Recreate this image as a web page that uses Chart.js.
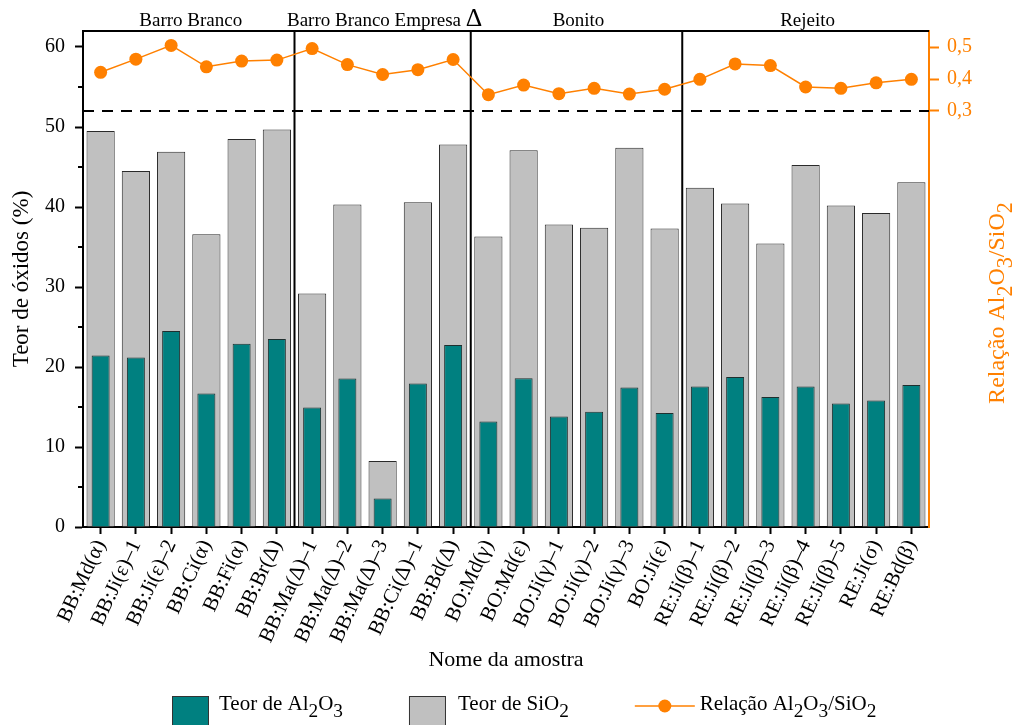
<!DOCTYPE html>
<html>
<head>
<meta charset="utf-8">
<script src="https://cdn.jsdelivr.net/npm/chart.js@4.4.0/dist/chart.umd.min.js"></script>
<style>
  html, body { margin: 0; padding: 0; background: #fff; }
  #wrap { width: 1016px; height: 725px; }
</style>
</head>
<body>
<div id="wrap"><canvas id="oxideChart"></canvas></div>
<script>
'use strict';

// ***** DATA *****
const sampleNames = ['BB:Md(α)', 'BB:Ji(ε)–1', 'BB:Ji(ε)–2', 'BB:Ci(α)', 'BB:Fi(α)', 'BB:Br(Δ)',
  'BB:Ma(Δ)–1', 'BB:Ma(Δ)–2', 'BB:Ma(Δ)–3', 'BB:Ci(Δ)–1', 'BB:Bd(Δ)',
  'BO:Md(γ)', 'BO:Md(ε)', 'BO:Ji(γ)–1', 'BO:Ji(γ)–2', 'BO:Ji(γ)–3', 'BO:Ji(ε)',
  'RE:Ji(β)–1', 'RE:Ji(β)–2', 'RE:Ji(β)–3', 'RE:Ji(β)–4', 'RE:Ji(β)–5', 'RE:Ji(σ)', 'RE:Bd(β)'];
const al2o3Values = [21.45, 21.2, 24.5, 16.7, 22.9, 23.5, 14.95, 18.55, 3.55, 17.95, 22.75,
  13.2, 18.6, 13.8, 14.4, 17.45, 14.25, 17.55, 18.75, 16.25, 17.55, 15.45, 15.8, 17.75];
const sio2Values = [49.5, 44.5, 46.9, 36.6, 48.5, 49.7, 29.2, 40.3, 8.25, 40.6, 47.8,
  36.3, 47.1, 37.8, 37.4, 47.4, 37.3, 42.4, 40.45, 35.45, 45.25, 40.2, 39.25, 43.1];
const ratioValues = [0.421, 0.462, 0.505, 0.438, 0.456, 0.459, 0.495, 0.445, 0.414, 0.429, 0.461,
  0.351, 0.381, 0.354, 0.371, 0.353, 0.368, 0.399, 0.447, 0.442, 0.375, 0.371, 0.388, 0.399];
const groupNames = ['Barro Branco', 'Barro Branco Empresa Δ', 'Bonito', 'Rejeito'];
const groupStarts = [0, 6, 11, 17]; // first sample index of each group
const rightTicks = [0.3, 0.4, 0.5];
const ratioLimit = 0.3;

// ***** STYLE *****
const SERIF = '"Liberation Serif", "Times New Roman", serif';
const ORANGE = '#FF8000';
const TEAL = '#008080';
const GREY = '#C0C0C0';

// ***** HELPERS *****
// "_2" marks a subscript digit, "Δ" is drawn a bit larger
function splitRich(text){
  return text.split(/(_\d|Δ)/).filter(s => s).map(s => {
    if(s[0] === '_') return {t: s.slice(1), scale: 0.92, shift: 0.32};
    if(s === 'Δ') return {t: s, scale: 1.35, shift: 0};
    return {t: s, scale: 1, shift: 0};
  });
}

function richWidth(ctx, text, size){
  let w = 0;
  splitRich(text).forEach(seg => {
    ctx.font = `${size * seg.scale}px ${SERIF}`;
    w += ctx.measureText(seg.t).width;
  });
  return w;
}

function drawRich(ctx, text, x, y, size){
  let cx = x;
  ctx.textAlign = 'left';
  ctx.textBaseline = 'alphabetic';
  splitRich(text).forEach(seg => {
    ctx.font = `${size * seg.scale}px ${SERIF}`;
    ctx.fillText(seg.t, cx, y + size * seg.shift);
    cx += ctx.measureText(seg.t).width;
  });
  return cx;
}

// ***** PLUGIN: frame, separators, limit line, labels, legend *****
const decorPlugin = {
  id: 'decor',
  beforeDatasetsDraw(chart){
    const {ctx, chartArea: area, scales} = chart;
    ctx.save();
    ctx.strokeStyle = '#000';
    ctx.lineWidth = 2;

    // top frame
    ctx.beginPath();
    ctx.moveTo(area.left, area.top);
    ctx.lineTo(area.right, area.top);
    ctx.stroke();

    // group separators
    for(let g = 1; g < groupStarts.length; g++){
      const i = groupStarts[g];
      const x = (scales.x.getPixelForValue(i - 1) + scales.x.getPixelForValue(i)) / 2;
      ctx.beginPath();
      ctx.moveTo(x, area.top);
      ctx.lineTo(x, area.bottom);
      ctx.stroke();
    }

    // dashed limit on ratio axis
    const yLim = scales.y2.getPixelForValue(ratioLimit);
    ctx.setLineDash([11, 8]);
    ctx.beginPath();
    ctx.moveTo(area.left, yLim);
    ctx.lineTo(area.right, yLim);
    ctx.stroke();
    ctx.setLineDash([]);

    // minor ticks on left axis
    for(let v = 5; v < 62; v += 10){
      const y = scales.y.getPixelForValue(v);
      ctx.beginPath();
      ctx.moveTo(area.left - 5, y);
      ctx.lineTo(area.left, y);
      ctx.stroke();
    }
    ctx.restore();
  },
  afterDraw(chart){
    const {ctx, chartArea: area, scales} = chart;
    ctx.save();
    ctx.fillStyle = '#000';

    // group names above plot
    groupNames.forEach((name, g) => {
      const first = groupStarts[g];
      const last = g + 1 < groupStarts.length ? groupStarts[g + 1] - 1 : sampleNames.length - 1;
      const cx = (scales.x.getPixelForValue(first) + scales.x.getPixelForValue(last)) / 2;
      const w = richWidth(ctx, name, 19);
      drawRich(ctx, name, cx - w / 2 + 2, area.top - 5, 19);
    });

    // right axis title, reading upwards
    const rTitle = 'Relação Al_2O_3/SiO_2';
    ctx.fillStyle = ORANGE;
    ctx.save();
    ctx.translate(chart.width - 12, (area.top + area.bottom) / 2 + 24);
    ctx.rotate(-Math.PI / 2);
    const rw = richWidth(ctx, rTitle, 24);
    drawRich(ctx, rTitle, -rw / 2, 0, 24);
    ctx.restore();

    // legend
    const ds = chart.data.datasets;
    const base = 710;
    let x = 172;
    [ds[0], ds[1]].forEach((d, k) => {
      ctx.fillStyle = d.backgroundColor;
      ctx.fillRect(x, 696, 37, 34);
      ctx.strokeStyle = '#333';
      ctx.lineWidth = 1;
      ctx.strokeRect(x + 0.5, 696.5, 36, 34);
      ctx.fillStyle = '#000';
      x = drawRich(ctx, d.label, x + 47 + k * 2, base, 21) + 66;
    });
    ctx.strokeStyle = ORANGE;
    ctx.lineWidth = 1.5;
    ctx.beginPath();
    ctx.moveTo(x, 706);
    ctx.lineTo(x + 60, 706);
    ctx.stroke();
    ctx.fillStyle = ORANGE;
    ctx.beginPath();
    ctx.arc(x + 30, 706, 6.5, 0, Math.PI * 2);
    ctx.fill();
    ctx.fillStyle = '#000';
    drawRich(ctx, ds[2].label, x + 65, base, 21);
    ctx.restore();
  }
};

// ***** CHART *****
const chartElem = document.getElementById('oxideChart');

new Chart(chartElem, {
  data: {
    labels: sampleNames,
    datasets: [{
      type: 'bar',
      label: 'Teor de Al_2O_3',
      data: al2o3Values,
      backgroundColor: TEAL,
      borderColor: '#1f2f2f',
      borderWidth: 1,
      barPercentage: 0.51,
      categoryPercentage: 1,
      grouped: false,
      yAxisID: 'y',
      order: 1
    },
    {
      type: 'bar',
      label: 'Teor de SiO_2',
      data: sio2Values,
      backgroundColor: GREY,
      borderColor: '#2a2a2a',
      borderWidth: 1,
      barPercentage: 0.8,
      categoryPercentage: 1,
      grouped: false,
      yAxisID: 'y',
      order: 2
    },
    {
      type: 'line',
      label: 'Relação Al_2O_3/SiO_2',
      data: ratioValues,
      borderColor: ORANGE,
      backgroundColor: ORANGE,
      borderWidth: 1.5,
      pointRadius: 6.5,
      pointBorderWidth: 0,
      yAxisID: 'y2',
      order: 0
    }]
  },
  options: {
    responsive: true,
    maintainAspectRatio: false,
    animation: false,
    layout: { padding: { top: 31, bottom: 41, left: 0, right: 0 } },
    plugins: {
      legend: { display: false },
      tooltip: { enabled: false }
    },
    scales: {
      x: {
        type: 'category',
        offset: true,
        grid: { offset: false, drawOnChartArea: false, tickLength: 7, tickWidth: 2, color: '#000' },
        border: { color: '#000', width: 2 },
        ticks: {
          autoSkip: false,
          minRotation: 65,
          maxRotation: 65,
          padding: 2,
          color: '#000',
          font: { family: SERIF, size: 21 }
        },
        title: {
          display: true,
          text: 'Nome da amostra',
          color: '#000',
          font: { family: SERIF, size: 22 },
          padding: { top: 0, bottom: 11 }
        },
        afterFit(scale){ scale.height = 157; }
      },
      y: {
        position: 'left',
        min: 0,
        max: 62,
        ticks: {
          stepSize: 10,
          includeBounds: false,
          padding: 10,
          color: '#000',
          font: { family: SERIF, size: 20 }
        },
        grid: { drawOnChartArea: false, tickLength: 8, tickWidth: 2, color: '#000' },
        border: { color: '#000', width: 2 },
        title: {
          display: true,
          text: 'Teor de óxidos (%)',
          color: '#000',
          font: { family: SERIF, size: 23 },
          padding: { top: 8, bottom: 0 }
        },
        afterFit(scale){ scale.width = 83; }
      },
      y2: {
        position: 'right',
        min: -1,
        max: 0.55,
        afterBuildTicks(scale){
          scale.ticks = rightTicks.map(v => ({ value: v }));
        },
        ticks: {
          padding: 8,
          color: ORANGE,
          font: { family: SERIF, size: 20 },
          callback: v => v.toFixed(1).replace('.', ',')
        },
        grid: { drawOnChartArea: false, tickLength: 10, tickWidth: 2, color: ORANGE },
        border: { color: ORANGE, width: 2 },
        afterFit(scale){ scale.width = 87; }
      }
    }
  },
  plugins: [decorPlugin]
});
</script>
</body>
</html>
